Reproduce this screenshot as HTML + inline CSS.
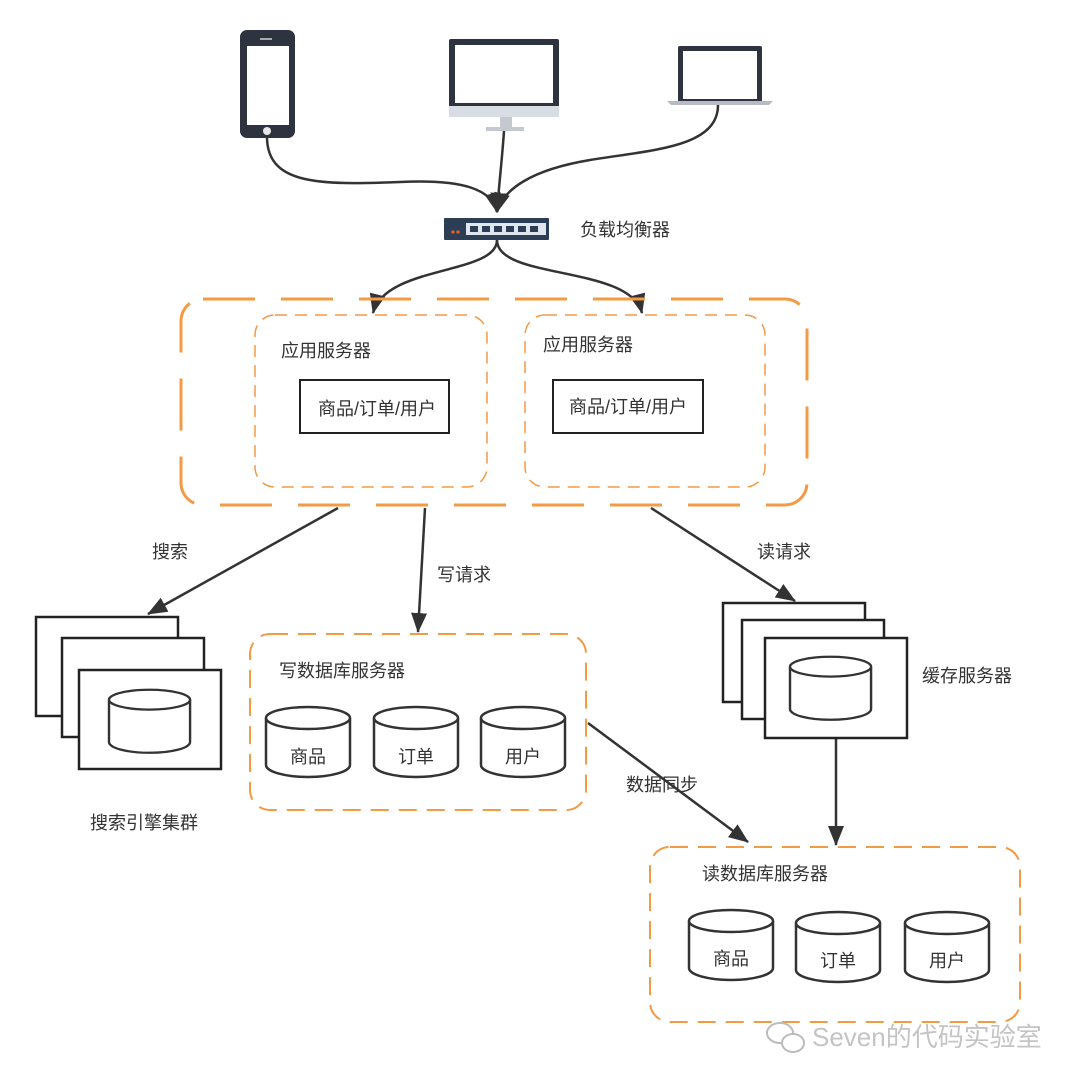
<!DOCTYPE html>
<html><head><meta charset="utf-8"><style>
html,body{margin:0;padding:0;background:#fff;}
svg{display:block;}
text{font-family:"Liberation Sans","Noto Sans CJK SC",sans-serif;fill:#333;font-size:18px;}
</style></head><body>
<svg width="1080" height="1083" viewBox="0 0 1080 1083" xmlns="http://www.w3.org/2000/svg">
<defs>
<marker id="ahb" markerWidth="20" markerHeight="18" refX="19" refY="9" orient="auto" markerUnits="userSpaceOnUse" viewBox="0 0 20 18">
<path d="M0,1 L20,9 L0,17 Z" fill="#333"/></marker>
<g id="cyl">
<path d="M0,13 L0,60 A42,12 0 0 0 84,60 L84,13" fill="#fff" stroke="#333" stroke-width="2.5"/>
<ellipse cx="42" cy="13" rx="42" ry="11" fill="#fff" stroke="#333" stroke-width="2.5"/>
</g>
</defs>

<!-- devices -->
<rect x="240" y="30" width="55" height="108" rx="7" fill="#2d3440"/>
<rect x="247" y="46" width="42" height="79" fill="#fff"/>
<circle cx="267" cy="131" r="4" fill="#e8e8e8"/>
<rect x="260" y="38" width="12" height="2" fill="#aaa"/>

<rect x="449" y="39" width="110" height="78" rx="2" fill="#2d3440"/>
<rect x="455" y="45" width="98" height="58" fill="#fff"/>
<rect x="449" y="106" width="110" height="11" fill="#d8dde3"/>
<rect x="500" y="117" width="12" height="10" fill="#c4c9cf"/>
<rect x="486" y="127" width="38" height="4" fill="#c4c9cf"/>

<rect x="678" y="46" width="84" height="56" rx="2" fill="#2d3440"/>
<rect x="683" y="51" width="74" height="48" fill="#fff"/>
<path d="M667,101 L773,101 L769,105 L671,105 Z" fill="#b8bcc2"/>

<!-- switch -->
<rect x="444" y="218" width="105" height="22" rx="1" fill="#2b3e55"/>
<rect x="466" y="223" width="80" height="12" fill="#dfe6ee"/>
<g fill="#2b3e55">
<rect x="470" y="226" width="8" height="6"/><rect x="482" y="226" width="8" height="6"/><rect x="494" y="226" width="8" height="6"/>
<rect x="506" y="226" width="8" height="6"/><rect x="518" y="226" width="8" height="6"/><rect x="530" y="226" width="8" height="6"/></g>
<circle cx="453" cy="232" r="1.6" fill="#e8622c"/><circle cx="458" cy="232" r="1.6" fill="#e8622c"/>
<text x="580" y="236">负载均衡器</text>

<!-- curves -->
<g fill="none" stroke="#333" stroke-width="2.5">
<path d="M267,138 C268,185 320,185 400,182 C465,179 492,190 497,212" marker-end="url(#ahb)"/>
<path d="M504,131 C502,160 499,185 497,212" marker-end="url(#ahb)"/>
<path d="M718,105 C718,148 650,150 590,160 C530,170 503,190 497,212" marker-end="url(#ahb)"/>
<path d="M497,240 C497,275 385,265 373,313" marker-end="url(#ahb)"/>
<path d="M497,240 C497,280 630,265 642,313" marker-end="url(#ahb)"/>
</g>

<!-- app cluster -->
<rect x="181" y="299" width="626" height="206" rx="22" fill="none" stroke="#f39a45" stroke-width="3" stroke-dasharray="52,26"/>
<rect x="255" y="315" width="232" height="172" rx="20" fill="none" stroke="#f39a45" stroke-width="1.5" stroke-dasharray="12,8"/>
<rect x="525" y="315" width="240" height="172" rx="20" fill="none" stroke="#f39a45" stroke-width="1.5" stroke-dasharray="12,8"/>
<text x="281" y="357">应用服务器</text>
<text x="543" y="351">应用服务器</text>
<rect x="300" y="380" width="149" height="53" fill="#fff" stroke="#222" stroke-width="2"/>
<rect x="553" y="380" width="150" height="53" fill="#fff" stroke="#222" stroke-width="2"/>
<text x="377" y="415" text-anchor="middle">商品/订单/用户</text>
<text x="628" y="413" text-anchor="middle">商品/订单/用户</text>

<!-- arrows -->
<g fill="none" stroke="#333" stroke-width="2.5">
<line x1="338" y1="508" x2="148" y2="614" marker-end="url(#ahb)"/>
<line x1="425" y1="508" x2="418" y2="632" marker-end="url(#ahb)"/>
<line x1="651" y1="508" x2="795" y2="601" marker-end="url(#ahb)"/>
<line x1="588" y1="723" x2="748" y2="842" marker-end="url(#ahb)"/>
<line x1="836" y1="738" x2="836" y2="845" marker-end="url(#ahb)"/>
</g>
<text x="152" y="558">搜索</text>
<text x="437" y="581">写请求</text>
<text x="757" y="558">读请求</text>
<text x="626" y="791">数据同步</text>

<!-- search stack -->
<g fill="#fff" stroke="#222" stroke-width="2.5">
<rect x="36" y="617" width="142" height="99"/>
<rect x="62" y="638" width="142" height="99"/>
<rect x="79" y="670" width="142" height="99"/>
</g>
<g transform="translate(109,688) scale(0.965,0.9)"><use href="#cyl"/></g>
<text x="90" y="829">搜索引擎集群</text>

<!-- write db -->
<rect x="250" y="634" width="336" height="176" rx="20" fill="none" stroke="#f39a45" stroke-width="2" stroke-dasharray="18,10"/>
<text x="279" y="677">写数据库服务器</text>
<use href="#cyl" x="266" y="705"/>
<use href="#cyl" x="374" y="705"/>
<use href="#cyl" x="481" y="705"/>
<text x="308" y="763" text-anchor="middle">商品</text>
<text x="416" y="763" text-anchor="middle">订单</text>
<text x="523" y="763" text-anchor="middle">用户</text>

<!-- cache stack -->
<g fill="#fff" stroke="#222" stroke-width="2.5">
<rect x="723" y="603" width="142" height="99"/>
<rect x="742" y="620" width="142" height="99"/>
<rect x="765" y="638" width="142" height="100"/>
</g>
<g transform="translate(790,655) scale(0.965,0.9)"><use href="#cyl"/></g>
<text x="922" y="682">缓存服务器</text>

<!-- read db -->
<rect x="650" y="847" width="370" height="175" rx="20" fill="none" stroke="#f39a45" stroke-width="2" stroke-dasharray="18,10"/>
<text x="702" y="880">读数据库服务器</text>
<use href="#cyl" x="689" y="908"/>
<use href="#cyl" x="796" y="910"/>
<use href="#cyl" x="905" y="910"/>
<text x="731" y="965" text-anchor="middle">商品</text>
<text x="838" y="967" text-anchor="middle">订单</text>
<text x="947" y="967" text-anchor="middle">用户</text>

<!-- watermark -->
<g fill="#fff" stroke="#bbb" stroke-width="2">
<ellipse cx="780" cy="1033" rx="13" ry="10"/>
<ellipse cx="793" cy="1043" rx="11" ry="9"/>
</g>
<text x="812" y="1046" style="font-size:26px;fill:#c4c4c4">Seven的代码实验室</text>
</svg>
</body></html>
